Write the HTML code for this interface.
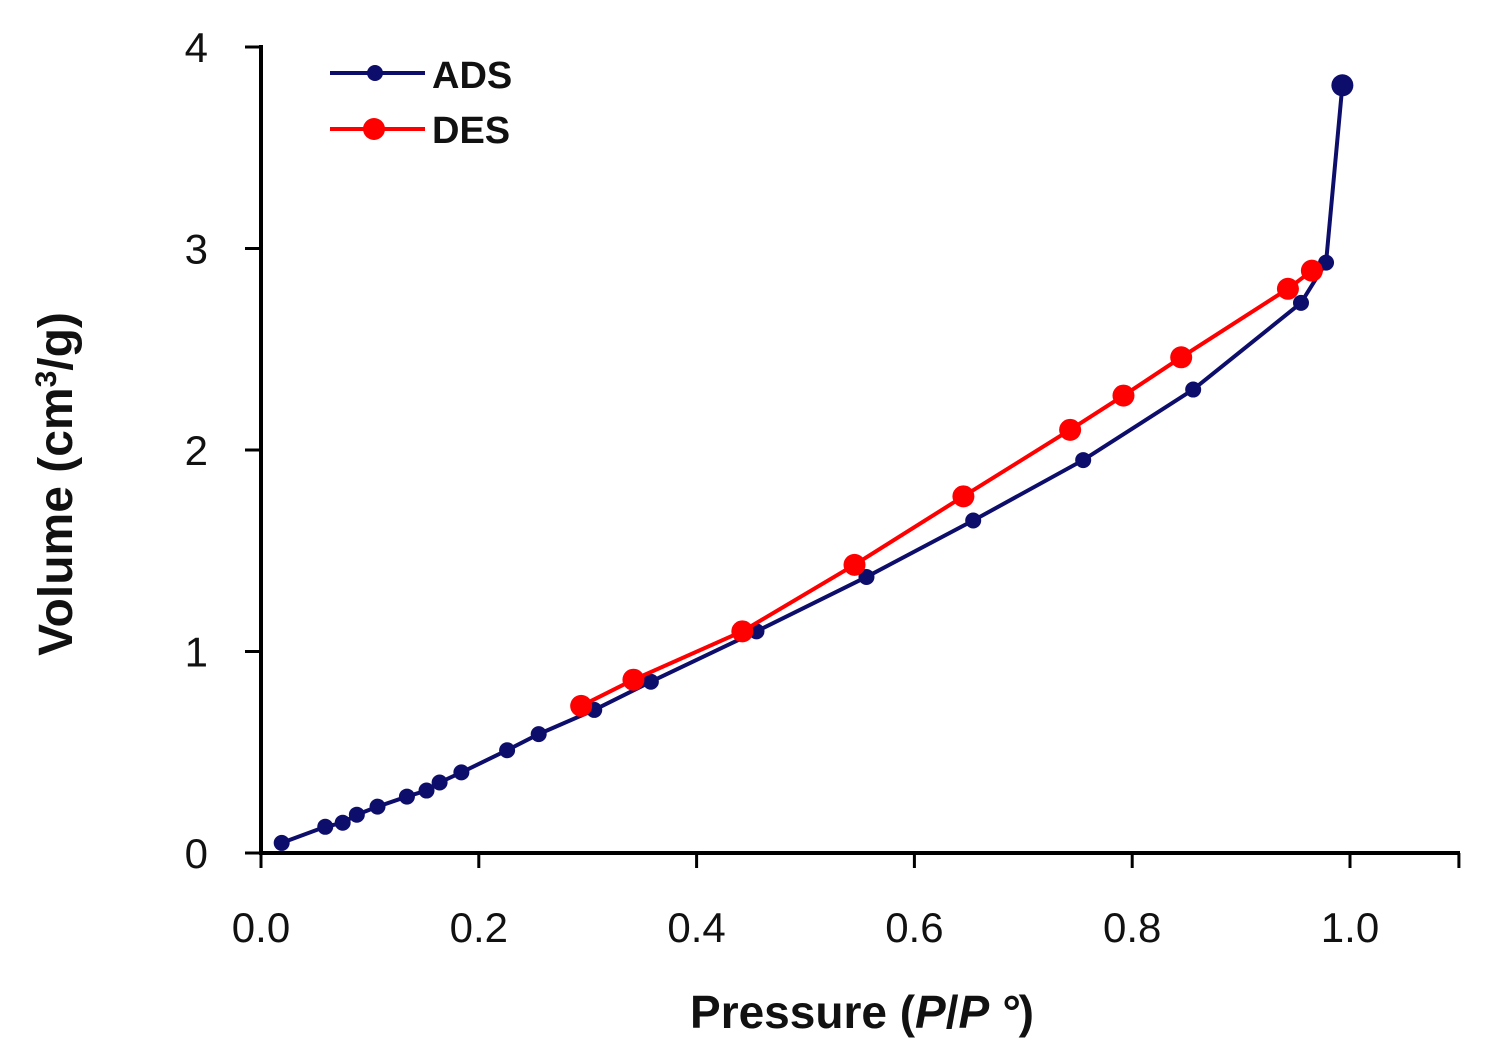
<!DOCTYPE html>
<html><head><meta charset="utf-8"><style>
body{margin:0;background:#fff}
svg{display:block;font-family:"Liberation Sans",sans-serif}
</style></head><body>
<svg id="chart" width="1492" height="1057" viewBox="0 0 1492 1057">
<g id="axes"></g>
<g id="series"></g>
<g>
<line x1="330" y1="73" x2="425" y2="73" stroke="#0d0d6b" stroke-width="4"/>
<circle cx="375" cy="73" r="8" fill="#0d0d6b"/>
<text x="432" y="88" font-size="38" font-weight="bold" fill="#111">ADS</text>
<line x1="330" y1="129" x2="425" y2="129" stroke="#f00" stroke-width="4"/>
<circle cx="374" cy="129" r="11" fill="#f00"/>
<text x="432" y="143" font-size="38" font-weight="bold" fill="#111">DES</text>
</g>
<text x="862" y="1028" font-size="46" font-weight="bold" text-anchor="middle" fill="#111">Pressure (<tspan font-style="italic">P</tspan>/<tspan font-style="italic">P °</tspan>)</text>
<text transform="translate(72,484) rotate(-90)" font-size="48" font-weight="bold" text-anchor="middle" fill="#111">Volume (cm<tspan baseline-shift="super" font-size="30">3</tspan>/g)</text>
</svg>
<script>
const xTicks=[0,0.2,0.4,0.6,0.8,1.0];
const xTickLabels=["0.0","0.2","0.4","0.6","0.8","1.0"];
const yTicks=[0,1,2,3,4];
const yTickLabels=["0","1","2","3","4"];
const adsX=[0.019,0.059,0.075,0.088,0.107,0.134,0.152,0.164,0.184,0.226,0.255,0.306,0.358,0.455,0.556,0.654,0.755,0.856,0.955,0.978,0.993];
const adsY=[0.05,0.13,0.15,0.19,0.23,0.28,0.31,0.35,0.40,0.51,0.59,0.71,0.85,1.10,1.37,1.65,1.95,2.30,2.73,2.93,3.81];
const desX=[0.294,0.342,0.442,0.545,0.645,0.743,0.792,0.845,0.943,0.965];
const desY=[0.73,0.86,1.10,1.43,1.77,2.10,2.27,2.46,2.80,2.89];
const NS="http://www.w3.org/2000/svg";
const sx=v=>261+v*1089, sy=v=>853-v*201.5;
function mk(t,a,p){const e=document.createElementNS(NS,t);for(const k in a)e.setAttribute(k,a[k]);p.appendChild(e);return e;}
const ax=document.getElementById('axes'), se=document.getElementById('series');
let e=mk('line',{x1:261,y1:45,x2:261,y2:855,stroke:'#000','stroke-width':4},ax);


e=mk('line',{x1:259,y1:853,x2:1460,y2:853,stroke:'#000','stroke-width':4},ax);


xTicks.forEach((v,i)=>{
 let t=mk('line',{x1:sx(v),y1:853,x2:sx(v),y2:868,stroke:'#000','stroke-width':3},ax);
 
 
 t=mk('text',{x:sx(v),y:942,'font-size':42,'text-anchor':'middle',fill:'#111'},ax);t.textContent=xTickLabels[i];
 
 
});
[1.1].forEach(v=>{let t=mk('line',{x1:sx(v),y1:853,x2:sx(v),y2:868,stroke:'#000','stroke-width':3},ax);
 
 });
yTicks.forEach((v,i)=>{
 let t=mk('line',{x1:245,y1:sy(v),x2:261,y2:sy(v),stroke:'#000','stroke-width':3},ax);
 
 
 t=mk('text',{x:208,y:sy(v)+15,'font-size':42,'text-anchor':'end',fill:'#111'},ax);t.textContent=yTickLabels[i];
 
 
});
function series(X,Y,color,r,name){
 const p=mk('polyline',{points:X.map((x,i)=>sx(x)+','+sy(Y[i])).join(' '),fill:'none',stroke:color,'stroke-width':4},se);
 
 
 X.forEach((x,i)=>{const rr=(name==='ads'&&i===X.length-1)?11:r;
  const c=mk('circle',{cx:sx(x),cy:sy(Y[i]),r:rr,fill:color},se);
  
  });
}
series(adsX,adsY,'#0d0d6b',8,'ads');
series(desX,desY,'#f00',11,'des');
</script>
</body></html>
